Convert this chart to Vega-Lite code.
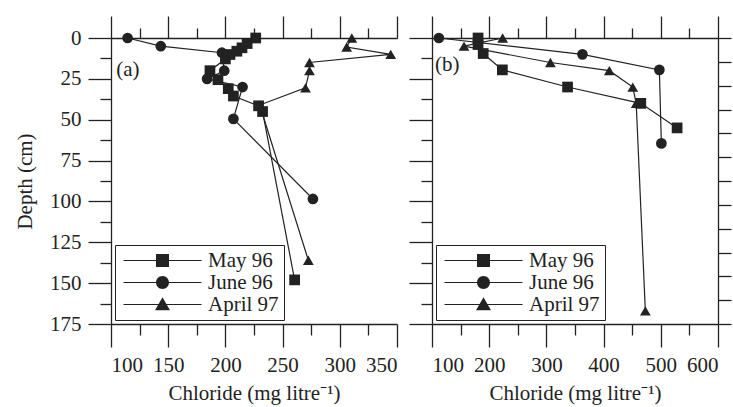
{
  "$schema": "https://vega.github.io/schema/vega-lite/v6.json",
  "padding": {"left": 14, "top": 15, "right": 2, "bottom": 2},
  "config": {
    "font": "Liberation Serif",
    "view": {"stroke": null},
    "axis": {
      "domainColor": "#222", "domainWidth": 1.3,
      "tickColor": "#222", "tickWidth": 1.3, "grid": false,
      "labelFont": "Liberation Serif", "labelFontSize": 21, "labelColor": "#222", "labelPadding": 7,
      "titleFont": "Liberation Serif", "titleFontSize": 21, "titleFontWeight": "normal", "titleColor": "#222"
    },
    "axisBottom": {"titlePadding": 7},
    "axisLeft": {"titlePadding": 14},
    "legend": {
      "orient": "bottom-left", "offset": 4, "title": null, "padding": 5,
      "strokeColor": "#222", "fillColor": "white",
      "labelFont": "Liberation Serif", "labelFontSize": 21, "labelColor": "#222",
      "symbolSize": 169, "symbolOffset": 32, "labelOffset": 35, "rowPadding": 0,
      "symbolStrokeWidth": 0, "symbolFillColor": "#222", "symbolOpacity": 1
    }
  },
  "datasets": {
    "chloride": [
      {"panel": "a", "series": "May 96", "chloride": 226.5, "depth": 0},
      {"panel": "a", "series": "May 96", "chloride": 219, "depth": 3.4},
      {"panel": "a", "series": "May 96", "chloride": 214.5, "depth": 6},
      {"panel": "a", "series": "May 96", "chloride": 210, "depth": 8.1},
      {"panel": "a", "series": "May 96", "chloride": 204, "depth": 10.1},
      {"panel": "a", "series": "May 96", "chloride": 200, "depth": 12.8},
      {"panel": "a", "series": "May 96", "chloride": 186.5, "depth": 20},
      {"panel": "a", "series": "May 96", "chloride": 193.5, "depth": 25.5},
      {"panel": "a", "series": "May 96", "chloride": 202.5, "depth": 31},
      {"panel": "a", "series": "May 96", "chloride": 207, "depth": 35.5},
      {"panel": "a", "series": "May 96", "chloride": 229, "depth": 41.5},
      {"panel": "a", "series": "May 96", "chloride": 232.5, "depth": 45},
      {"panel": "a", "series": "May 96", "chloride": 260.5, "depth": 148},
      {"panel": "a", "series": "June 96", "chloride": 114.5, "depth": 0},
      {"panel": "a", "series": "June 96", "chloride": 143.5, "depth": 5},
      {"panel": "a", "series": "June 96", "chloride": 197, "depth": 9},
      {"panel": "a", "series": "June 96", "chloride": 199, "depth": 20},
      {"panel": "a", "series": "June 96", "chloride": 184, "depth": 25},
      {"panel": "a", "series": "June 96", "chloride": 215, "depth": 30},
      {"panel": "a", "series": "June 96", "chloride": 207, "depth": 49.5},
      {"panel": "a", "series": "June 96", "chloride": 276.5, "depth": 98.5},
      {"panel": "a", "series": "April 97", "chloride": 310.5, "depth": 0},
      {"panel": "a", "series": "April 97", "chloride": 306, "depth": 5.5},
      {"panel": "a", "series": "April 97", "chloride": 344.5, "depth": 10},
      {"panel": "a", "series": "April 97", "chloride": 273.5, "depth": 15},
      {"panel": "a", "series": "April 97", "chloride": 273.5, "depth": 20},
      {"panel": "a", "series": "April 97", "chloride": 270, "depth": 30.5},
      {"panel": "a", "series": "April 97", "chloride": 230, "depth": 41},
      {"panel": "a", "series": "April 97", "chloride": 272.5, "depth": 136},
      {"panel": "b", "series": "May 96", "chloride": 180.5, "depth": 0},
      {"panel": "b", "series": "May 96", "chloride": 180.5, "depth": 4},
      {"panel": "b", "series": "May 96", "chloride": 189.5, "depth": 9.5},
      {"panel": "b", "series": "May 96", "chloride": 223, "depth": 19.5},
      {"panel": "b", "series": "May 96", "chloride": 337, "depth": 30},
      {"panel": "b", "series": "May 96", "chloride": 465, "depth": 40},
      {"panel": "b", "series": "May 96", "chloride": 528.5, "depth": 55},
      {"panel": "b", "series": "June 96", "chloride": 112, "depth": 0},
      {"panel": "b", "series": "June 96", "chloride": 363, "depth": 10},
      {"panel": "b", "series": "June 96", "chloride": 497.5, "depth": 19.5},
      {"panel": "b", "series": "June 96", "chloride": 501, "depth": 64.5},
      {"panel": "b", "series": "April 97", "chloride": 223.5, "depth": 0},
      {"panel": "b", "series": "April 97", "chloride": 156, "depth": 5},
      {"panel": "b", "series": "April 97", "chloride": 307, "depth": 15},
      {"panel": "b", "series": "April 97", "chloride": 410, "depth": 20},
      {"panel": "b", "series": "April 97", "chloride": 451, "depth": 30},
      {"panel": "b", "series": "April 97", "chloride": 457, "depth": 40},
      {"panel": "b", "series": "April 97", "chloride": 473, "depth": 167}
    ]
  },
  "spacing": 35,
  "bounds": "flush",
  "resolve": {"scale": {"shape": "independent"}, "legend": {"shape": "independent"}},
  "hconcat": [
    {
      "width": 286, "height": 286,
      "resolve": {"scale": {"x": "independent", "y": "independent", "shape": "independent"}, "legend": {"shape": "independent"}},
      "layer": [
        {
          "data": {"name": "chloride"},
          "transform": [{"filter": "datum.panel === 'a'"}],
          "mark": {"type": "line", "color": "#222", "strokeWidth": 1.2},
          "encoding": {
            "x": {"field": "chloride", "type": "quantitative",
                  "scale": {"domain": [100, 350], "nice": false, "zero": false},
                  "axis": {"orient": "bottom", "values": [100, 150, 200, 250, 300, 350], "tickSize": 23, "title": "Chloride (mg litre⁻¹)"}},
            "y": {"field": "depth", "type": "quantitative",
                  "scale": {"domain": [0, 175], "reverse": true, "nice": false, "zero": false},
                  "axis": {"orient": "left", "values": [0, 25, 50, 75, 100, 125, 150, 175], "tickSize": 23, "title": "Depth (cm)"}},
            "detail": {"field": "series"},
            "order": {"field": "depth", "type": "quantitative"}
          }
        },
        {
          "data": {"name": "chloride"},
          "transform": [{"filter": "datum.panel === 'a'"}],
          "mark": {"type": "point", "filled": true, "color": "#222", "size": 115, "opacity": 1},
          "encoding": {
            "x": {"field": "chloride", "type": "quantitative",
                  "scale": {"domain": [100, 350], "nice": false, "zero": false},
                  "axis": {"orient": "top", "values": [100, 150, 200, 250, 300, 350], "tickSize": 22, "labels": false, "title": null}},
            "y": {"field": "depth", "type": "quantitative",
                  "scale": {"domain": [0, 175], "reverse": true, "nice": false, "zero": false},
                  "axis": {"orient": "left", "values": [12.5, 37.5, 62.5, 87.5, 112.5, 137.5, 162.5], "tickSize": 11, "labels": false, "title": null, "domain": false}},
            "shape": {"field": "series", "type": "nominal",
                      "scale": {"domain": ["May 96", "June 96", "April 97"], "range": ["square", "circle", "triangle-up"]},
                      "legend": null}
          }
        },
        {
          "data": {"name": "chloride"},
          "transform": [{"filter": "datum.panel === 'none'"}],
          "mark": {"type": "point", "filled": true, "color": "#222", "opacity": 1},
          "encoding": {
            "shape": {"field": "series", "type": "nominal",
                      "scale": {"domain": ["May 96", "June 96", "April 97"],
                                "range": ["M-6,-0.09H6V0.09H-6Z M-1,-1H1V1H-1Z", "M-6,-0.09H6V0.09H-6Z M-1,0A1,1,0,1,1,1,0A1,1,0,1,1,-1,0Z", "M-6,-0.09H6V0.09H-6Z M0,-1.1L1.15,0.9L-1.15,0.9Z"]},
                      "legend": {"symbolSize": 169, "symbolOpacity": 1}}
          }
        },
        {
          "data": {"name": "chloride"},
          "transform": [{"filter": "datum.panel === 'a'"}],
          "mark": {"type": "line", "opacity": 0},
          "encoding": {
            "x": {"field": "chloride", "type": "quantitative",
                  "scale": {"domain": [100, 350], "nice": false, "zero": false},
                  "axis": {"orient": "bottom", "values": [125, 175, 225, 275, 325], "tickSize": 11, "labels": false, "title": null, "domain": false}},
            "y": {"field": "depth", "type": "quantitative",
                  "scale": {"domain": [0, 175], "reverse": true, "nice": false, "zero": false}, "axis": null},
            "detail": {"field": "series"}
          }
        },
        {
          "data": {"values": [{"label": "(a)"}]},
          "mark": {"type": "text", "align": "left", "baseline": "middle", "fontSize": 21, "color": "#222", "font": "Liberation Serif"},
          "encoding": {
            "text": {"field": "label"},
            "x": {"datum": 104.5, "type": "quantitative",
                  "scale": {"domain": [100, 350], "nice": false, "zero": false},
                  "axis": {"orient": "top", "values": [125, 175, 225, 275, 325], "tickSize": 10, "labels": false, "title": null, "domain": false}},
            "y": {"datum": 19.7, "type": "quantitative",
                  "scale": {"domain": [0, 175], "reverse": true, "nice": false, "zero": false}, "axis": null}
          }
        }
      ]
    },
    {
      "width": 286, "height": 286,
      "resolve": {"scale": {"x": "independent", "y": "independent", "shape": "independent"}, "legend": {"shape": "independent"}},
      "layer": [
        {
          "data": {"name": "chloride"},
          "transform": [{"filter": "datum.panel === 'b'"}],
          "mark": {"type": "line", "color": "#222", "strokeWidth": 1.2},
          "encoding": {
            "x": {"field": "chloride", "type": "quantitative",
                  "scale": {"domain": [100, 600], "nice": false, "zero": false},
                  "axis": {"orient": "bottom", "values": [100, 200, 300, 400, 500, 600], "tickSize": 23, "title": "Chloride (mg litre⁻¹)"}},
            "y": {"field": "depth", "type": "quantitative",
                  "scale": {"domain": [0, 175], "reverse": true, "nice": false, "zero": false},
                  "axis": {"orient": "left", "values": [0, 25, 50, 75, 100, 125, 150, 175], "tickSize": 23, "labels": false, "title": null}},
            "detail": {"field": "series"},
            "order": {"field": "depth", "type": "quantitative"}
          }
        },
        {
          "data": {"name": "chloride"},
          "transform": [{"filter": "datum.panel === 'b'"}],
          "mark": {"type": "point", "filled": true, "color": "#222", "size": 115, "opacity": 1},
          "encoding": {
            "x": {"field": "chloride", "type": "quantitative",
                  "scale": {"domain": [100, 600], "nice": false, "zero": false},
                  "axis": {"orient": "top", "values": [100, 200, 300, 400, 500, 600], "tickSize": 22, "labels": false, "title": null}},
            "y": {"field": "depth", "type": "quantitative",
                  "scale": {"domain": [0, 175], "reverse": true, "nice": false, "zero": false},
                  "axis": {"orient": "left", "values": [12.5, 37.5, 62.5, 87.5, 112.5, 137.5, 162.5], "tickSize": 11, "labels": false, "title": null, "domain": false}},
            "shape": {"field": "series", "type": "nominal",
                      "scale": {"domain": ["May 96", "June 96", "April 97"], "range": ["square", "circle", "triangle-up"]},
                      "legend": null}
          }
        },
        {
          "data": {"name": "chloride"},
          "transform": [{"filter": "datum.panel === 'none'"}],
          "mark": {"type": "point", "filled": true, "color": "#222", "opacity": 1},
          "encoding": {
            "shape": {"field": "series", "type": "nominal",
                      "scale": {"domain": ["May 96", "June 96", "April 97"],
                                "range": ["M-6,-0.09H6V0.09H-6Z M-1,-1H1V1H-1Z", "M-6,-0.09H6V0.09H-6Z M-1,0A1,1,0,1,1,1,0A1,1,0,1,1,-1,0Z", "M-6,-0.09H6V0.09H-6Z M0,-1.1L1.15,0.9L-1.15,0.9Z"]},
                      "legend": {"symbolSize": 169, "symbolOpacity": 1}}
          }
        },
        {
          "data": {"name": "chloride"},
          "transform": [{"filter": "datum.panel === 'b'"}],
          "mark": {"type": "line", "opacity": 0},
          "encoding": {
            "x": {"field": "chloride", "type": "quantitative",
                  "scale": {"domain": [100, 600], "nice": false, "zero": false},
                  "axis": {"orient": "bottom", "values": [150, 250, 350, 450, 550], "tickSize": 11, "labels": false, "title": null, "domain": false}},
            "y": {"field": "depth", "type": "quantitative",
                  "scale": {"domain": [0, 175], "reverse": true, "nice": false, "zero": false}, "axis": null},
            "detail": {"field": "series"}
          }
        },
        {
          "data": {"values": [{"label": "(b)"}]},
          "mark": {"type": "text", "align": "left", "baseline": "middle", "fontSize": 21, "color": "#222", "font": "Liberation Serif"},
          "encoding": {
            "text": {"field": "label"},
            "x": {"datum": 105.3, "type": "quantitative",
                  "scale": {"domain": [100, 600], "nice": false, "zero": false},
                  "axis": {"orient": "top", "values": [150, 250, 350, 450, 550], "tickSize": 10, "labels": false, "title": null, "domain": false}},
            "y": {"datum": 16.5, "type": "quantitative",
                  "scale": {"domain": [0, 175], "reverse": true, "nice": false, "zero": false}, "axis": null}
          }
        },
        {
          "data": {"values": [{"label": "right"}]},
          "mark": {"type": "point", "opacity": 0},
          "encoding": {
            "y": {"datum": 0, "type": "quantitative",
                  "scale": {"domain": [0, 12], "reverse": true, "nice": false, "zero": false},
                  "axis": {"orient": "right", "values": [0, 1, 2, 3, 4, 5, 6, 7, 8, 9, 10, 11, 12], "tickSize": 13, "labels": false, "title": null}}
          }
        }
      ]
    }
  ]
}
